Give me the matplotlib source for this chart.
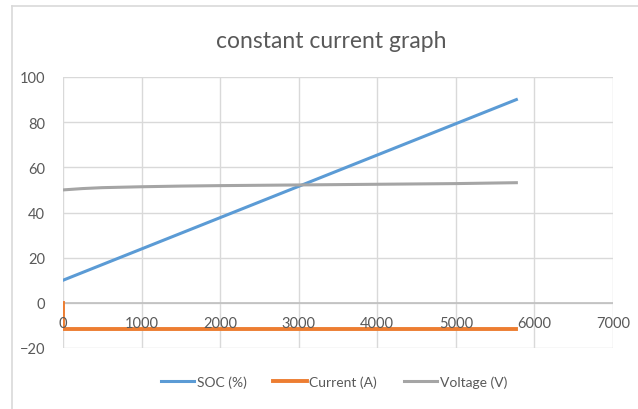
import matplotlib.pyplot as plt
from matplotlib.lines import Line2D
import numpy as np

plt.rcParams['font.family'] = ['Lato', 'DejaVu Sans']

# series data
soc_time = [0, 5770]
soc_vals = [10, 90]

cur_time = [0, 0, 5770]
cur_vals = [0, -11.6, -11.6]

volt_time = [0, 250, 500, 1000, 1500, 2000, 3000, 4000, 5000, 5770]
volt_vals = [50.0, 50.6, 51.0, 51.4, 51.7, 51.9, 52.2, 52.5, 52.8, 53.2]

x_ticks = [0, 1000, 2000, 3000, 4000, 5000, 6000, 7000]
y_ticks = [-20, 0, 20, 40, 60, 80, 100]

W, H = 638, 410
fig = plt.figure(figsize=(W / 100, H / 100), dpi=100)
ax = fig.add_axes([63 / W, 1 - 349 / H, 550 / W, 271 / H])

# outer chart frame (left and top edges visible)
fig.add_artist(Line2D([12 / W, 12 / W], [0, 1 - 7 / H], color='#d9d9d9', lw=1.2))
fig.add_artist(Line2D([12 / W, 1], [1 - 7 / H, 1 - 7 / H], color='#d9d9d9', lw=1.2))

ax.plot(soc_time, soc_vals, color='#5b9bd5', lw=2.2, label='SOC (%)', zorder=3)
ax.plot(cur_time, cur_vals, color='#ed7d31', lw=2.8, label='Current (A)', zorder=3)
ax.plot(volt_time, volt_vals, color='#a5a5a5', lw=2.2, label='Voltage (V)', zorder=3)

ax.set_xlim(0, 7000)
ax.set_ylim(-20, 100)
ax.set_xticks(x_ticks)
ax.set_yticks(y_ticks)
ax.set_axisbelow(True)
ax.grid(True, color='#d9d9d9', lw=1.0)
for s in ax.spines.values():
    s.set_visible(False)
ax.axhline(0, color='#bfbfbf', lw=1.2, zorder=1)

ax.tick_params(axis='both', length=0)
ax.set_xticklabels([])
ax.tick_params(axis='y', pad=13, labelsize=10.5, labelcolor='#595959')

# x labels sit just under the zero line, drawn over the current trace
for xt in x_ticks:
    ax.text(xt, -8.9, str(xt), ha='center', va='center', fontsize=10.5,
            color='#595959', zorder=5, clip_on=False)

fig.text(331 / W, 1 - 42 / H, 'constant current graph', ha='center', va='center',
         fontsize=16.5, color='#595959')

fig.legend(loc='center', bbox_to_anchor=(334 / W, 1 - 383 / H), ncol=3,
           frameon=False, fontsize=10, handlelength=2.4, handletextpad=0.2,
           columnspacing=1.9, labelcolor='#595959')

fig.savefig('out.png', dpi=100)
